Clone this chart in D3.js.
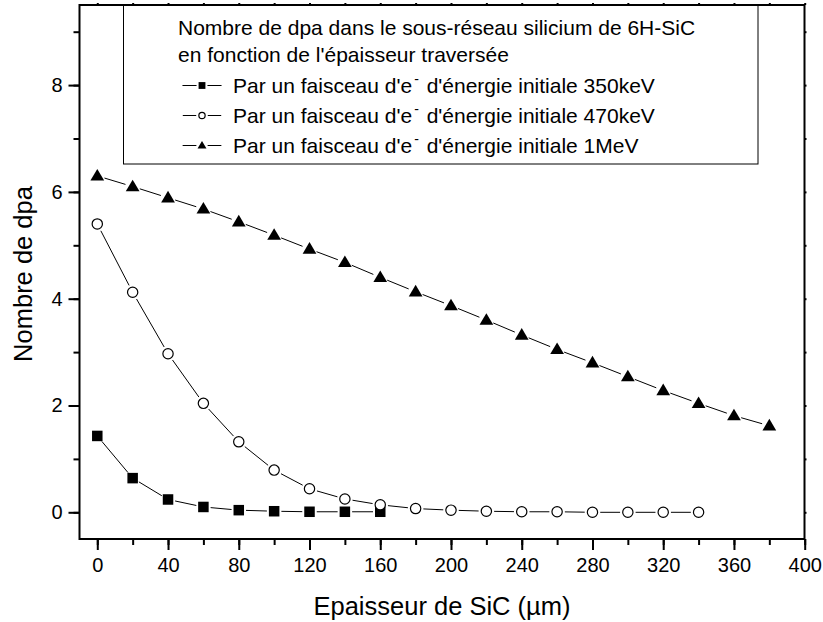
<!DOCTYPE html>
<html>
<head>
<meta charset="utf-8">
<script src="https://cdn.jsdelivr.net/npm/d3@7"></script>
<style>
  html, body { margin: 0; padding: 0; background: #fff; }
  svg { display: block; font-family: "Liberation Sans", Arial, sans-serif; }
  svg text { font-family: "Liberation Sans", Arial, sans-serif; }
</style>
</head>
<body>
<svg id="chart" width="823" height="622"></svg>
<script>
// ---------------- DATA ----------------
const thickness350 = [0, 20, 40, 60, 80, 100, 120, 140, 160];
const dpa350 = [1.43, 0.64, 0.24, 0.10, 0.04, 0.02, 0.01, 0.01, 0.01];

const thickness470 = [0, 20, 40, 60, 80, 100, 120, 140, 160, 180, 200, 220, 240, 260, 280, 300, 320, 340];
const dpa470 = [5.40, 4.12, 2.97, 2.04, 1.32, 0.79, 0.44, 0.25, 0.14, 0.07, 0.04, 0.02, 0.01, 0.01, 0.0, 0.0, 0.0, 0.0];

const thickness1MeV = [0, 20, 40, 60, 80, 100, 120, 140, 160, 180, 200, 220, 240, 260, 280, 300, 320, 340, 360, 380];
const dpa1MeV = [6.30, 6.10, 5.89, 5.68, 5.44, 5.19, 4.93, 4.68, 4.40, 4.13, 3.87, 3.60, 3.32, 3.05, 2.80, 2.54, 2.28, 2.04, 1.81, 1.62];

const xTickValues = [0, 40, 80, 120, 160, 200, 240, 280, 320, 360, 400];
const yTickValues = [0, 2, 4, 6, 8];

const legendTitle = ["Nombre de dpa dans le sous-réseau silicium de 6H-SiC",
                     "en fonction de l'épaisseur traversée"];
const legendPrefix = "Par un faisceau d'e";
const legendSup = "-";
const legendSuffixes = [" d'énergie initiale 350keV", " d'énergie initiale 470keV", " d'énergie initiale 1MeV"];

const xLabel = "Epaisseur de SiC (µm)";
const yLabel = "Nombre de dpa";

const FONT = "'Liberation Sans', Arial, sans-serif";

// ---------------- LAYOUT ----------------
const svg = d3.select("#chart");
const L = 79.5, R = 804.5, T = 5, B = 539;
const x = d3.scaleLinear().domain([-10, 400]).range([79.6, 804.7]);
const y = d3.scaleLinear().domain([-0.5, 9.5]).range([B, T]);

// axes
const xMinor = d3.range(0, 401, 20);
const yMinor = d3.range(0, 9.01, 1);

const gx = svg.append("g").attr("transform", `translate(0,${B})`);
gx.call(d3.axisBottom(x).tickValues(xMinor).tickSize(6).tickFormat(""));
gx.select(".domain").remove();
const gx2 = svg.append("g").attr("transform", `translate(0,${B})`);
gx2.call(d3.axisBottom(x).tickValues(xTickValues).tickSize(11).tickPadding(8).tickFormat(d3.format("d")));
gx2.select(".domain").remove();

const gy = svg.append("g").attr("transform", `translate(${L},0)`);
gy.call(d3.axisLeft(y).tickValues(yMinor).tickSize(6).tickFormat(""));
gy.select(".domain").remove();
const gy2 = svg.append("g").attr("transform", `translate(${L},0)`);
gy2.call(d3.axisLeft(y).tickValues(yTickValues).tickSize(11).tickPadding(6).tickFormat(d3.format("d")));
gy2.select(".domain").remove();

// top / right tiny ticks
const gt = svg.append("g").attr("transform", `translate(0,${T})`);
gt.call(d3.axisTop(x).tickValues(xMinor).tickSize(2).tickFormat(""));
gt.select(".domain").remove();
const gr = svg.append("g").attr("transform", `translate(${R},0)`);
gr.call(d3.axisRight(y).tickValues(yMinor).tickSize(2).tickFormat(""));
gr.select(".domain").remove();

svg.selectAll("g").attr("font-family", FONT);
svg.selectAll(".tick line").attr("stroke", "#000").attr("stroke-width", 2);
svg.selectAll(".tick text").attr("font-size", 20).attr("fill", "#000").attr("font-family", FONT);

// frame
svg.append("rect").attr("x", L).attr("y", T).attr("width", R - L).attr("height", B - T)
   .attr("fill", "none").attr("stroke", "#000").attr("stroke-width", 2);

// axis labels
svg.append("text").attr("x", (L + R) / 2).attr("y", 615).attr("text-anchor", "middle")
   .attr("font-family", FONT).attr("font-size", 25.5).text(xLabel);
svg.append("text").attr("transform", `translate(32,${(T + B) / 2 + 2}) rotate(-90)`)
   .attr("text-anchor", "middle").attr("font-family", FONT).attr("font-size", 25.5).text(yLabel);

// ---------------- SERIES ----------------
function drawSegments(g, pts, gap) {
  for (let i = 0; i < pts.length - 1; i++) {
    const [x1, y1] = pts[i], [x2, y2] = pts[i + 1];
    const dx = x2 - x1, dy = y2 - y1, len = Math.hypot(dx, dy);
    if (len <= 2 * gap) continue;
    const ux = dx / len, uy = dy / len;
    g.append("line")
      .attr("x1", x1 + ux * gap).attr("y1", y1 + uy * gap)
      .attr("x2", x2 - ux * gap).attr("y2", y2 - uy * gap)
      .attr("stroke", "#000").attr("stroke-width", 1);
  }
}
function drawMarker(g, type, cx, cy, s) {
  if (type === "square") {
    g.append("rect").attr("x", cx - s / 2).attr("y", cy - s / 2).attr("width", s).attr("height", s)
      .attr("fill", "#000");
  } else if (type === "circle") {
    g.append("circle").attr("cx", cx).attr("cy", cy).attr("r", s / 2 - 0.6)
      .attr("fill", "#fff").attr("stroke", "#000").attr("stroke-width", 1.2);
  } else {
    const w = s * 1.25, h = s * 1.05;
    g.append("path")
      .attr("d", `M${cx},${cy - h * 0.6} L${cx + w / 2},${cy + h * 0.4} L${cx - w / 2},${cy + h * 0.4} Z`)
      .attr("fill", "#000");
  }
}

const series = [
  { xs: thickness350, ys: dpa350, type: "square", size: 10.5 },
  { xs: thickness470, ys: dpa470, type: "circle", size: 11.5 },
  { xs: thickness1MeV, ys: dpa1MeV, type: "triangle", size: 11 }
];

const plot = svg.append("g");
series.forEach(s => {
  const pts = s.xs.map((d, i) => [x(d), y(s.ys[i])]);
  const g = plot.append("g");
  drawSegments(g, pts, s.size / 2 + 2);
  pts.forEach(p => drawMarker(g, s.type, p[0], p[1], s.size));
});

// ---------------- LEGEND ----------------
const lg = svg.append("g").attr("font-family", FONT);
lg.append("rect").attr("x", 123.5).attr("y", T).attr("width", 758 - 123.5).attr("height", 164 - T)
  .attr("fill", "#fff").attr("stroke", "#000").attr("stroke-width", 1);
svg.append("line").attr("x1", L).attr("x2", R).attr("y1", T).attr("y2", T)
   .attr("stroke", "#000").attr("stroke-width", 2);

legendTitle.forEach((t, i) => {
  lg.append("text").attr("x", 178).attr("y", 35 + i * 27).attr("font-size", 21).text(t);
});
const entryY = [93, 123, 153];
series.forEach((s, i) => {
  const cy = entryY[i] - 7.5;
  drawSegments(lg, [[177, cy], [202, cy], [227, cy]], s.size * 0.33 + 2);
  drawMarker(lg, s.type, 202, cy, s.size * 0.65);
  const t = lg.append("text").attr("x", 233).attr("y", entryY[i]).attr("font-size", 21);
  t.append("tspan").text(legendPrefix);
  t.append("tspan").attr("font-size", 14).attr("dy", -9).attr("dx", 2).text(legendSup);
  t.append("tspan").attr("dy", 9).attr("dx", 2).text(legendSuffixes[i]);
});
</script>
</body>
</html>
